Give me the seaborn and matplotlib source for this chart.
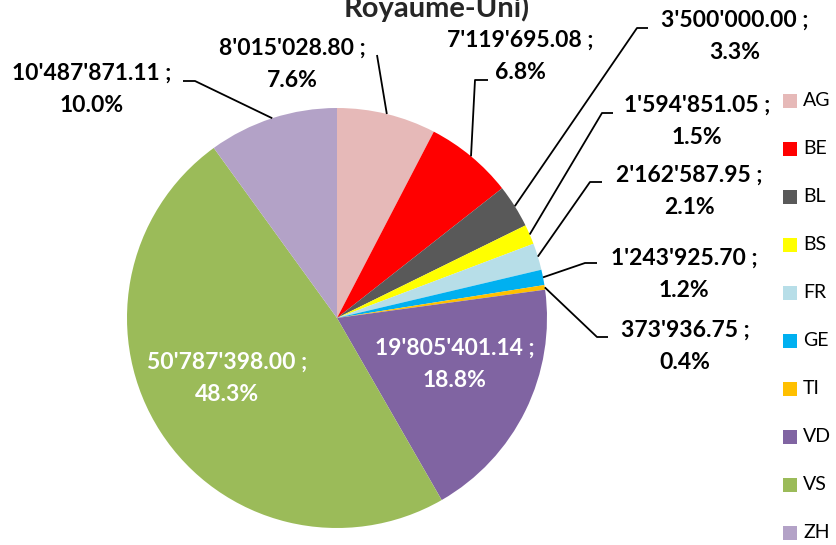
import matplotlib
matplotlib.use("Agg")
import matplotlib.pyplot as plt
import seaborn as sns
import numpy as np

# montants par canton
cantons = ['AG', 'BE', 'BL', 'BS', 'FR', 'GE', 'TI', 'VD', 'VS', 'ZH']
montants = [8015028.80, 7119695.08, 3500000.00, 1594851.05, 2162587.95,
            1243925.70, 373936.75, 19805401.14, 50787398.00, 10487871.11]
couleurs = ['#E6B9B8', '#FF0000', '#595959', '#FFFF00', '#B7DEE8',
            '#00B0F0', '#FFC000', '#8064A2', '#9BBB59', '#B3A2C7']
titre = "Royaume-Uni)"

W, H = 836, 545

# placement des etiquettes en pixels : (x texte, y ligne 1, coude, fin du trait)
lbl_pos = {
    'AG': (292, 48, (377, 55), (377, 55)),
    'BE': (520, 40, (475, 80), (488, 80)),
    'BL': (735, 20, (637, 28), (648, 28)),
    'BS': (697, 105, (602, 113), (613, 113)),
    'FR': (689, 175, (590, 182), (602, 182)),
    'GE': (684, 258, (585, 263), (597, 263)),
    'TI': (685, 330, (597, 337), (608, 337)),
    'VD': (455, 348, None, None),
    'VS': (227, 362, None, None),
    'ZH': (92, 73, (195, 81), (183, 81)),
}

def fmt(v):
    return '{:,.2f}'.format(v).replace(',', "'")

sns.set_theme(style='white')
plt.rcParams['font.family'] = ['Lato', 'DejaVu Sans']

fig = plt.figure(figsize=(W / 100, H / 100), dpi=100)
ax = fig.add_axes([0, 0, 1, 1])
ax.set_xlim(0, W)
ax.set_ylim(0, H)
ax.set_aspect('equal')
ax.axis('off')

cx, cy, r = 337, H - 318, 210
wedges, _ = ax.pie(montants, colors=sns.color_palette(couleurs), startangle=90,
                   counterclock=False, center=(cx, cy), radius=r,
                   wedgeprops=dict(linewidth=0))
ax.set_xlim(0, W)
ax.set_ylim(0, H)

total = sum(montants)
fs = 16.5
for w, c, v in zip(wedges, cantons, montants):
    tx, ty, elbow, end = lbl_pos[c]
    pct = '{:.1f}%'.format(v / total * 100)
    col = 'white' if elbow is None else 'black'
    ax.text(tx, H - ty, fmt(v) + ' ;', ha='center', va='center', fontsize=fs,
            fontweight='bold', color=col)
    ax.text(tx, H - ty - 32.5, pct, ha='center', va='center', fontsize=fs,
            fontweight='bold', color=col)
    if elbow is not None:
        a = np.deg2rad((w.theta1 + w.theta2) / 2)
        x0, y0 = cx + r * np.cos(a), cy + r * np.sin(a)
        ax.plot([x0, elbow[0], end[0]], [y0, H - elbow[1], H - end[1]],
                color='black', lw=1.3, solid_capstyle='butt')

# legende
for i, (c, col) in enumerate(zip(cantons, couleurs)):
    ly = H - (101 + i * 48)
    ax.add_patch(plt.Rectangle((783, ly - 7), 14, 14, color=col, lw=0))
    ax.text(803, ly, c, ha='left', va='center', fontsize=14, color='#000000')

fig.text(437 / W, 1 - 17 / H, titre, ha='center', va='baseline', fontsize=21,
         fontweight='bold')

fig.savefig('out.png', dpi=100)
